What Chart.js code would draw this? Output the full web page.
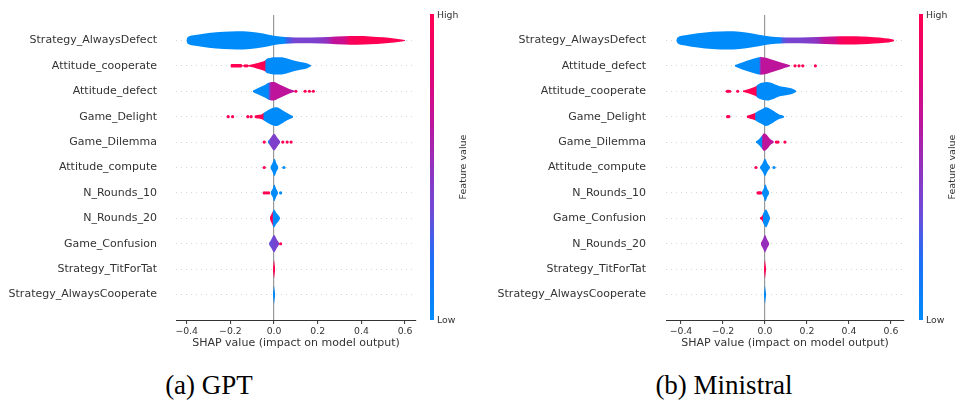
<!DOCTYPE html>
<html>
<head>
<meta charset="utf-8">
<script src="https://cdn.jsdelivr.net/npm/chart.js@4.4.1/dist/chart.umd.min.js"></script>
<style>
  body { margin: 0; background: #fff; }
  #wrap { position: relative; width: 956px; height: 408px; overflow: hidden;
          font-family: "DejaVu Sans", sans-serif; color: #333; }
  .panel { position: absolute; top: 0; }
  .cbar { position: absolute; top: 14px; width: 4px; height: 306px; }
  .cbl { position: absolute; font-size: 9.3px; line-height: 12px; }
  .flab { position: absolute; font-size: 9.5px; white-space: nowrap;
          transform: translate(-50%, -50%) rotate(-90deg); }
  .cap { position: absolute; top: 370px; width: 300px; text-align: center;
         font: 27px "Liberation Serif", "Times New Roman", serif; color: #000; line-height: 30px; }
</style>
</head>
<body>
<div id="wrap">
  <canvas id="chartGPT" class="panel" style="left:0" width="480" height="356"></canvas>
  <canvas id="chartMin" class="panel" style="left:480px" width="476" height="356"></canvas>

  <div class="cbar" id="cbarA" style="left:430px"></div>
  <div class="cbl" style="left:437px;top:9px">High</div>
  <div class="cbl" style="left:437px;top:314px">Low</div>
  <div class="flab" style="left:462px;top:167px">Feature value</div>

  <div class="cbar" id="cbarB" style="left:919px"></div>
  <div class="cbl" style="left:926px;top:9px">High</div>
  <div class="cbl" style="left:926px;top:314px">Low</div>
  <div class="flab" style="left:951px;top:167px">Feature value</div>

  <div class="cap" style="left:59px">(a) GPT</div>
  <div class="cap" style="left:574px">(b) Ministral</div>
</div>

<script>
// ── data: feature order (top to bottom) ───────────────────────────
const FEATURES_GPT = ["Strategy_AlwaysDefect", "Attitude_cooperate", "Attitude_defect", "Game_Delight",
  "Game_Dilemma", "Attitude_compute", "N_Rounds_10", "N_Rounds_20", "Game_Confusion",
  "Strategy_TitForTat", "Strategy_AlwaysCooperate"];
const FEATURES_MIN = ["Strategy_AlwaysDefect", "Attitude_defect", "Attitude_cooperate", "Game_Delight",
  "Game_Dilemma", "Attitude_compute", "N_Rounds_10", "Game_Confusion", "N_Rounds_20",
  "Strategy_TitForTat", "Strategy_AlwaysCooperate"];
const X_TICKS = [-0.4, -0.2, 0, 0.2, 0.4, 0.6];

// violin outline: SHAP value knots and density half-width (in rows)
const GPT_SHAP = [
  [-0.401, -0.395, -0.36, -0.30, -0.23, -0.17, -0.11, -0.05, 0.0, 0.05, 0.10, 0.17, 0.25, 0.32, 0.38, 0.44, 0.50, 0.55, 0.585, 0.60],
  [-0.20, -0.195, -0.15, -0.145, -0.12, -0.105, -0.08, -0.06, -0.04, -0.035, -0.02, 0.0, 0.03, 0.06, 0.09, 0.12, 0.15, 0.17],
  [-0.097, -0.08, -0.06, -0.04, -0.025, -0.01, 0.0, 0.02, 0.04, 0.06, 0.08, 0.095],
  [-0.09, -0.075, -0.055, -0.045, -0.03, -0.015, 0.0, 0.012, 0.03, 0.05, 0.07, 0.087],
  [-0.028, -0.015, 0.0, 0.015, 0.028],
  [-0.017, -0.008, 0.002, 0.011, 0.02],
  [-0.016, -0.007, 0.001, 0.01, 0.018],
  [-0.019, -0.01, 0.0, 0.01, 0.02, 0.027],
  [-0.023, -0.012, 0.0, 0.012, 0.023],
  [-0.005, -0.0025, 0.0, 0.0025, 0.005],
  [-0.005, -0.0025, 0.0, 0.0025, 0.005]
];
const GPT_WIDTH = [
  [0.04, 0.13, 0.21, 0.29, 0.34, 0.36, 0.34, 0.27, 0.18, 0.13, 0.11, 0.11, 0.13, 0.16, 0.17, 0.155, 0.12, 0.08, 0.04, 0.01],
  [0.03, 0.07, 0.07, 0.02, 0.02, 0.05, 0.10, 0.15, 0.22, 0.27, 0.31, 0.34, 0.34, 0.29, 0.21, 0.15, 0.10, 0.02],
  [0.03, 0.10, 0.18, 0.26, 0.33, 0.36, 0.36, 0.29, 0.21, 0.13, 0.06, 0.02],
  [0.04, 0.07, 0.10, 0.16, 0.24, 0.31, 0.36, 0.37, 0.30, 0.19, 0.10, 0.03],
  [0.03, 0.17, 0.33, 0.17, 0.03],
  [0.03, 0.16, 0.34, 0.16, 0.03],
  [0.03, 0.15, 0.33, 0.15, 0.03],
  [0.04, 0.20, 0.35, 0.22, 0.12, 0.03],
  [0.03, 0.18, 0.34, 0.18, 0.03],
  [0.03, 0.20, 0.36, 0.20, 0.03],
  [0.03, 0.20, 0.35, 0.20, 0.03]
];
// colour along each violin: SHAP value -> feature value (0 low, 1 high)
const GPT_CX = [
  [0.045, 0.06, 0.09, 0.20, 0.24, 0.27, 0.32, 0.35, 0.40],
  [-0.20, -0.042, -0.037],
  [-0.027, -0.02, -0.013],
  [-0.09, -0.052, -0.045],
  [-0.026, -0.018],
  [0], [0],
  [-0.008, -0.003],
  [-0.023, 0.02],
  [0], [0]
];
const GPT_CV = [
  [0, 0.25, 0.38, 0.42, 0.5, 0.65, 0.72, 0.95, 1],
  [1, 1, 0],
  [0, 0.42, 0.65],
  [1, 1, 0],
  [0, 0.42],
  [0], [0],
  [1, 0],
  [0.33, 0.42],
  [1], [0]
];
const GPT_DOT_X = [[], [-0.133, -0.124], [0.10, 0.142, 0.162, 0.18], [-0.21, -0.19, -0.12, -0.105],
  [-0.045, 0.04, 0.06, 0.078], [-0.045, 0.045], [-0.045, -0.035, -0.025, 0.03], [], [0.03], [], []];
const GPT_DOT_V = [[], [1, 1], [0.9, 1, 1, 1], [1, 1, 1, 1],
  [1, 1, 1, 1], [1, 0], [1, 1, 1, 0], [], [1], [], []];

const MIN_SHAP = [
  [-0.422, -0.415, -0.38, -0.32, -0.25, -0.18, -0.12, -0.06, 0.0, 0.05, 0.10, 0.17, 0.25, 0.32, 0.40, 0.46, 0.52, 0.57, 0.605, 0.615],
  [-0.143, -0.12, -0.09, -0.06, -0.035, -0.02, 0.0, 0.02, 0.05, 0.08, 0.105, 0.12],
  [-0.105, -0.09, -0.07, -0.05, -0.04, -0.03, -0.01, 0.01, 0.04, 0.07, 0.10, 0.125, 0.148],
  [-0.086, -0.07, -0.05, -0.04, -0.02, 0.005, 0.03, 0.05, 0.07, 0.082, 0.092],
  [-0.043, -0.03, -0.015, -0.004, 0.01, 0.025, 0.042],
  [-0.024, -0.012, 0.0, 0.012, 0.024],
  [-0.015, -0.007, 0.002, 0.011, 0.02],
  [-0.025, -0.015, -0.005, 0.005, 0.015, 0.024],
  [-0.02, -0.01, 0.0, 0.01, 0.02],
  [-0.005, -0.0025, 0.0, 0.0025, 0.005],
  [-0.005, -0.0025, 0.0, 0.0025, 0.005]
];
const MIN_WIDTH = [
  [0.04, 0.12, 0.20, 0.28, 0.34, 0.36, 0.34, 0.27, 0.18, 0.13, 0.11, 0.11, 0.13, 0.15, 0.16, 0.15, 0.12, 0.09, 0.05, 0.02],
  [0.03, 0.10, 0.19, 0.27, 0.33, 0.35, 0.33, 0.28, 0.20, 0.12, 0.06, 0.02],
  [0.03, 0.06, 0.11, 0.17, 0.22, 0.29, 0.34, 0.36, 0.30, 0.20, 0.16, 0.12, 0.03],
  [0.04, 0.08, 0.13, 0.18, 0.27, 0.37, 0.28, 0.17, 0.08, 0.06, 0.02],
  [0.03, 0.10, 0.25, 0.35, 0.27, 0.12, 0.03],
  [0.03, 0.16, 0.34, 0.16, 0.03],
  [0.03, 0.15, 0.33, 0.15, 0.03],
  [0.03, 0.08, 0.25, 0.35, 0.20, 0.03],
  [0.03, 0.18, 0.34, 0.18, 0.03],
  [0.03, 0.20, 0.36, 0.20, 0.03],
  [0.03, 0.20, 0.35, 0.20, 0.03]
];
const MIN_CX = [
  [0.07, 0.085, 0.11, 0.20, 0.25, 0.28, 0.33, 0.36, 0.40],
  [-0.028, -0.023, -0.017],
  [-0.105, -0.043, -0.037],
  [-0.086, -0.05, -0.044],
  [-0.016, -0.011],
  [0], [0],
  [-0.012, -0.008],
  [-0.02, 0.0, 0.02],
  [0], [0]
];
const MIN_CV = [
  [0, 0.3, 0.38, 0.42, 0.5, 0.65, 0.72, 0.95, 1],
  [0, 0.42, 0.65],
  [1, 1, 0],
  [1, 1, 0],
  [0, 0.65],
  [0], [0],
  [1, 0],
  [0.55, 0.5, 0.55],
  [1], [0]
];
const MIN_DOT_X = [[], [0.143, 0.162, 0.18, 0.24], [-0.18, -0.175, -0.168, -0.13], [-0.178, -0.172],
  [0.054, 0.062, 0.095], [-0.043, 0.043], [-0.033, -0.027, -0.021], [], [], [], []];
const MIN_DOT_V = [[], [1, 1, 1, 1], [1, 1, 1, 1], [1, 1],
  [1, 1, 1], [1, 0], [1, 1, 1], [], [], [], []];

// ── SHAP red/blue colour map ─────────────────────────────────────
const CMAP = [[0, [0, 139, 250]], [0.2, [30, 110, 245]], [0.35, [110, 75, 215]], [0.5, [145, 50, 190]],
  [0.65, [190, 20, 155]], [0.8, [225, 5, 120]], [1, [255, 0, 82]]];

function cmap(t) {
  t = Math.max(0, Math.min(1, t));
  for (let i = 1; i < CMAP.length; i++) {
    if (t <= CMAP[i][0]) {
      const [t0, c0] = CMAP[i - 1], [t1, c1] = CMAP[i];
      const f = (t - t0) / (t1 - t0);
      const c = c0.map((v, k) => Math.round(v + (c1[k] - v) * f));
      return `rgb(${c[0]},${c[1]},${c[2]})`;
    }
  }
  return "rgb(255,0,82)";
}

function grad(chart, xs, vs) {
  const sx = chart.scales.x;
  if (xs.length === 1 || !sx) return cmap(vs[0]);
  const p0 = sx.getPixelForValue(xs[0]), p1 = sx.getPixelForValue(xs[xs.length - 1]);
  if (!isFinite(p0) || !isFinite(p1) || p0 === p1) return cmap(vs[0]);
  const g = chart.ctx.createLinearGradient(p0, 0, p1, 0);
  xs.forEach((x, k) => {
    const f = (sx.getPixelForValue(x) - p0) / (p1 - p0);
    g.addColorStop(Math.max(0, Math.min(1, f)), cmap(vs[k]));
  });
  return g;
}

// colour bars
const cssStops = CMAP.map(([t, c]) => `rgb(${c[0]},${c[1]},${c[2]}) ${t * 100}%`).join(",");
document.getElementById("cbarA").style.background = `linear-gradient(to top, ${cssStops})`;
document.getElementById("cbarB").style.background = `linear-gradient(to top, ${cssStops})`;

function fmtTick(v) {
  if (Math.abs(v) < 1e-9) return "0.0";
  return v.toFixed(1).replace("-", "\u2212");
}

function makeChart(id, feats, shap, width, cx, cv, dotX, dotV, xMin, xMax, yAxisW, labelPad, padRight) {
  const datasets = [];
  feats.forEach((f, i) => {
    const edge = { borderColor: "rgba(0,0,0,0)", borderWidth: 0, pointRadius: 0, pointHoverRadius: 0,
                   cubicInterpolationMode: "monotone" };
    datasets.push(Object.assign({ data: shap[i].map((x, k) => ({ x, y: i - width[i][k] })), fill: false }, edge));
    datasets.push(Object.assign({ data: shap[i].map((x, k) => ({ x, y: i + width[i][k] })), fill: "-1",
                   backgroundColor: c => grad(c.chart, cx[i], cv[i]) }, edge));
  });

  const dots = [], dotCols = [];
  dotX.forEach((xs, i) => xs.forEach((x, k) => { dots.push({ x, y: i }); dotCols.push(cmap(dotV[i][k])); }));
  datasets.push({ type: "scatter", data: dots, pointRadius: 1.6, pointHoverRadius: 1.6,
                  pointBackgroundColor: dotCols, pointBorderWidth: 0, showLine: false });

  const chart = new Chart(document.getElementById(id), {
    type: "line",
    data: { datasets },
    options: {
      responsive: false,
      animation: false,
      events: [],
      layout: { padding: { top: 15, right: padRight, left: 0, bottom: 0 } },
      plugins: { legend: { display: false }, tooltip: { enabled: false } },
      scales: {
        x: {
          type: "linear", min: xMin, max: xMax,
          afterBuildTicks: s => { s.ticks = X_TICKS.map(v => ({ value: v })); },
          afterFit: s => { s.height = 36; s.paddingLeft = 0; s.paddingRight = 0; },
          border: { display: true, color: "#333", width: 1 },
          grid: {
            color: c => (c.tick && Math.abs(c.tick.value) < 1e-9) ? "#999" : "rgba(0,0,0,0)",
            lineWidth: 1.2, tickColor: "#333", tickLength: 4, tickWidth: 1,
          },
          ticks: { color: "#333", font: { family: "DejaVu Sans", size: 9.3 }, padding: 2,
                   maxRotation: 0, callback: v => fmtTick(v) },
          title: { display: true, text: "SHAP value (impact on model output)", color: "#333",
                   font: { family: "DejaVu Sans", size: 11 }, padding: { top: 0, bottom: 6 } },
        },
        y: {
          type: "linear", min: -1, max: 11, reverse: true,
          afterBuildTicks: s => { s.ticks = feats.map((f, i) => ({ value: i })); },
          afterFit: s => { s.width = yAxisW; s.paddingTop = 0; s.paddingBottom = 0; },
          border: { display: false, dash: [1, 4] },
          grid: { color: "#d6d6d6", lineWidth: 1, drawTicks: false },
          ticks: { color: "#333", font: { family: "DejaVu Sans", size: 11 }, padding: labelPad,
                   autoSkip: false, callback: v => feats[v] },
        },
      },
    },
  });
  chart.update("none");
  return chart;
}

makeChart("chartGPT", FEATURES_GPT, GPT_SHAP, GPT_WIDTH, GPT_CX, GPT_CV, GPT_DOT_X, GPT_DOT_V,
          -0.449, 0.65, 176, 19, 64);
makeChart("chartMin", FEATURES_MIN, MIN_SHAP, MIN_WIDTH, MIN_CX, MIN_CV, MIN_DOT_X, MIN_DOT_V,
          -0.4714, 0.662, 186, 20, 52);
</script>
</body>
</html>
